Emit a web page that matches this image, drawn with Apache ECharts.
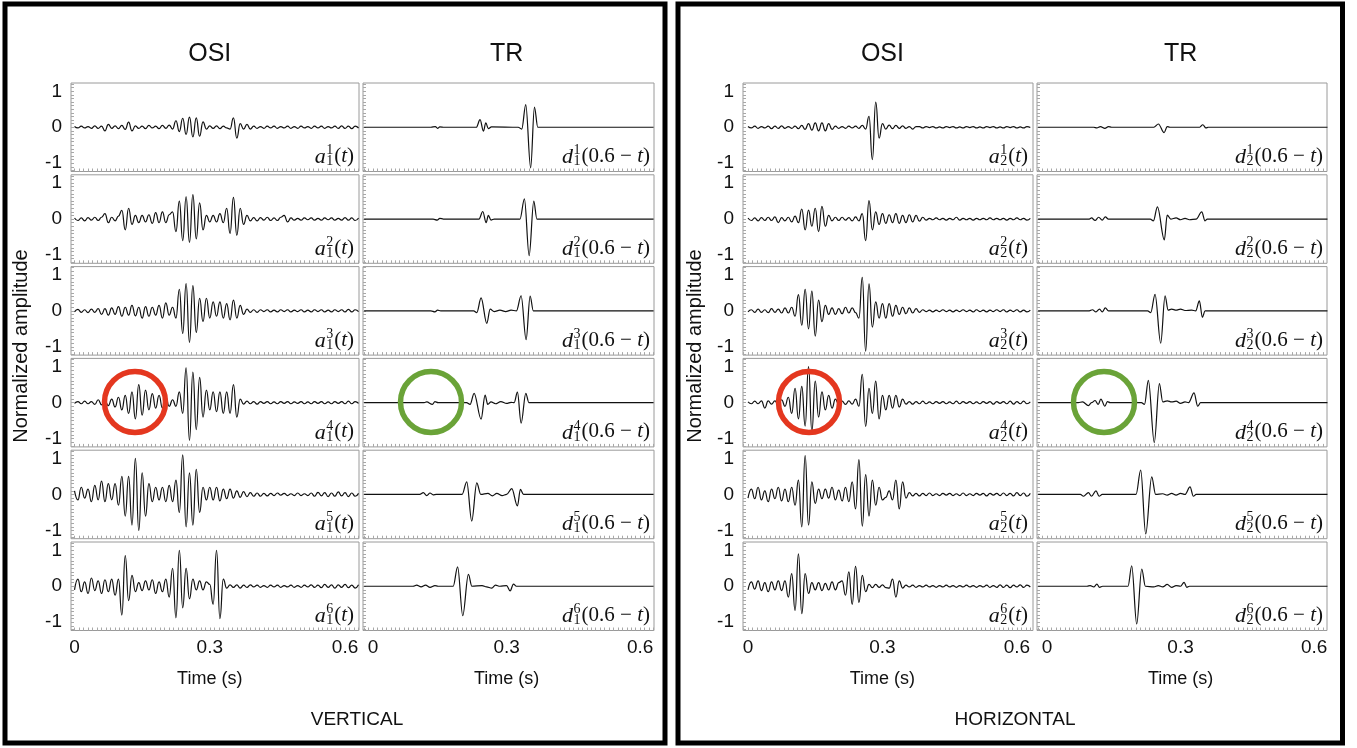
<!DOCTYPE html>
<html>
<head>
<meta charset="utf-8">
<script src="https://cdn.jsdelivr.net/npm/echarts@6/dist/echarts.min.js"></script>
<style>
html, body { margin: 0; padding: 0; background: #fff; }
#box { width: 1357px; height: 748px; }
</style>
</head>
<body>
<div id="box"></div>
<script>
// OSI traces are sampled every DT seconds starting at t = 0
const DT = 0.0075;

// OSI, vertical component (a_1^k)
const a11 = [0.02,-0.02,0.03,-0.02,0.02,-0.03,0.04,-0.03,0.03,
  -0.1,0.08,-0.03,0.04,-0.04,0.05,-0.06,0.14,-0.1,0.04,
  -0.03,0.03,-0.04,0.05,-0.02,0.03,-0.04,0.05,-0.03,0.06,
  -0.05,0.18,-0.12,0.25,-0.2,0.28,-0.27,0.26,-0.25,0.15,-0.05,
  0.04,-0.03,0.04,-0.04,0.03,-0.02,
  -0.05,0.26,-0.3,0.1,-0.05,0.08,-0.05,
  0.03,-0.03,0.02,-0.03,0.03,-0.02,0.03,-0.03,0.02,-0.02,0.03,-0.03,0.02,-0.03,0.03,-0.02,
  0.02,-0.03,0.03,-0.02,0.03,-0.03,0.02,-0.02,0.03,-0.03,0.04,-0.03,0.03,-0.04,0.03,-0.02];
const a12 = [0.03,-0.04,0.03,-0.05,0.04,-0.03,0.05,-0.04,0.05,
  0.15,-0.1,0.05,-0.05,0.08,
  0.24,-0.3,0.3,-0.15,0.1,-0.1,
  0.1,-0.08,0.12,-0.12,0.18,-0.1,0.2,-0.1,0.12,
  0.2,-0.35,0.5,-0.6,0.62,-0.65,0.68,-0.55,0.45,-0.3,0.1,
  -0.08,0.1,-0.08,0.15,-0.1,0.3,-0.4,0.6,-0.45,0.3,-0.15,0.1,-0.05,
  0.04,-0.05,0.04,-0.03,0.05,-0.04,0.03,-0.04,0.05,0.1,-0.08,0.03,-0.03,0.02,-0.03,0.03,
  -0.02,0.03,-0.03,0.02,-0.03,0.03,-0.02,0.03,-0.03,0.02,-0.03,0.04,-0.03,0.03,-0.04,0.03];
const a13 = [-0.03,0.04,-0.04,0.03,-0.05,0.05,-0.04,0.06,
  -0.1,0.06,-0.12,0.08,-0.1,0.12,-0.15,0.1,-0.12,0.15,-0.14,0.1,-0.2,0.12,-0.15,0.1,-0.12,0.15,-0.2,0.22,-0.12,0.1,
  -0.2,0.6,-0.63,0.76,-0.88,0.7,-0.6,0.35,-0.3,0.35,-0.2,0.25,
  -0.15,0.25,-0.2,0.2,-0.25,0.3,-0.2,0.15,-0.1,
  0.05,-0.04,0.03,-0.04,0.03,-0.02,0.03,-0.03,0.02,-0.03,0.03,-0.02,0.03,-0.03,0.02,-0.02,0.03,
  -0.03,0.02,-0.03,0.03,-0.02,0.03,-0.03,0.02,-0.03,0.03,-0.02,0.03,-0.03,0.04,-0.03,0.03,-0.02];
const a14 = [-0.02,0.03,-0.03,0.04,-0.03,0.03,-0.05,0.08,-0.06,0.05,
  -0.08,0.1,-0.12,0.15,-0.2,0.2,-0.3,0.3,-0.45,0.5,-0.35,0.35,-0.2,0.25,-0.15,0.2,-0.15,0.15,
  -0.1,0.08,-0.1,
  0.3,-0.3,0.97,-1.05,0.85,-0.75,0.7,-0.4,0.35,
  -0.2,0.3,-0.25,0.3,-0.3,0.3,-0.3,0.5,-0.4,0.1,
  -0.04,0.04,-0.03,0.03,-0.04,0.03,-0.02,0.03,-0.03,0.02,-0.03,0.03,-0.02,0.03,-0.03,0.02,-0.02,0.03,
  -0.03,0.02,-0.03,0.03,-0.02,0.03,-0.03,0.02,-0.03,0.03,-0.02,0.03,-0.03,0.04,-0.03,0.03,-0.02];
const a15 = [0.1,-0.15,0.2,-0.1,0.15,-0.2,0.25,-0.15,0.37,-0.2,0.3,-0.15,
  0.3,-0.3,0.5,-0.6,0.5,-0.85,1.0,-1.0,0.6,-0.6,0.3,
  -0.2,0.2,-0.15,0.2,-0.2,0.25,
  -0.2,0.4,-0.5,1.1,-0.9,0.6,-0.85,0.7,-0.5,0.2,
  -0.15,0.2,-0.15,0.2,-0.18,0.15,-0.12,0.15,-0.1,0.1,-0.08,0.08,-0.06,0.05,
  -0.05,0.04,-0.05,0.03,-0.04,0.03,-0.03,0.04,-0.02,0.03,-0.03,0.02,-0.03,0.04,-0.03,0.02,
  -0.03,0.04,-0.05,0.06,-0.04,0.05,-0.06,0.04,-0.05,0.07,-0.04,0.05,-0.06,0.04,-0.05,0.03];
const a16 = [-0.1,0.2,-0.15,0.12,-0.2,0.23,-0.12,0.15,-0.2,0.18,-0.15,0.2,-0.25,
  0.2,-0.8,0.85,-0.4,0.3,-0.15,
  0.1,-0.12,0.15,-0.1,0.18,-0.2,0.12,-0.15,0.2,-0.3,
  0.5,-0.88,1.0,-0.6,0.5,-0.35,0.2,
  -0.1,0.15,-0.1,0.12,0.05,
  -0.5,1.0,-0.9,0.2,-0.05,
  0.04,-0.03,0.04,-0.05,0.03,-0.03,0.04,-0.02,0.03,-0.03,0.02,-0.03,0.03,-0.02,0.03,-0.03,
  0.02,-0.02,0.03,-0.03,0.02,-0.03,0.03,-0.02,0.04,-0.03,0.03,-0.04,0.05,-0.03,0.04,-0.05,
  0.04,-0.03,0.05,-0.04,0.03,-0.05,0.04];

// OSI, horizontal component (a_2^k)
const a21 = [0.02,-0.02,0.03,-0.03,0.02,-0.02,0.03,-0.04,0.03,-0.03,0.04,-0.03,0.02,-0.03,0.03,-0.04,0.05,-0.06,
  0.1,-0.08,0.12,-0.1,0.12,-0.1,0.1,-0.06,
  0.03,-0.03,0.02,-0.03,0.03,-0.02,0.03,-0.03,0.05,-0.05,
  0.3,-0.9,0.7,-0.3,0.1,-0.05,
  0.06,-0.04,0.05,-0.03,0.04,-0.03,0.02,-0.05,0.02,
  0.02,-0.02,0.02,-0.01,0.02,-0.02,0.01,-0.02,0.02,-0.01,0.02,-0.02,0.01,-0.02,0.02,-0.01,
  0.02,-0.02,0.01,-0.02,0.02,-0.01,0.02,-0.02,0.01,-0.02,0.02,-0.01,0.02,-0.02,0.01,-0.02,0.02,-0.01];
const a22 = [0.03,-0.04,0.03,-0.05,0.04,-0.04,0.05,-0.04,0.06,-0.1,0.04,-0.05,0.05,-0.08,0.08,
  -0.1,0.28,-0.3,0.25,-0.2,0.3,-0.35,0.35,-0.2,0.1,
  -0.05,0.05,-0.04,0.05,-0.03,0.04,-0.05,0.06,-0.05,
  0.15,-0.6,0.51,-0.3,0.2,-0.15,0.15,-0.12,0.12,-0.1,0.15,-0.12,0.1,-0.1,0.12,-0.08,0.1,-0.06,0.05,
  -0.03,0.02,-0.02,0.03,-0.02,0.02,-0.03,0.02,-0.02,0.05,-0.03,0.02,-0.02,0.02,-0.03,0.02,
  -0.02,0.02,-0.02,0.03,-0.02,0.02,-0.02,0.02,-0.03,0.02,-0.02,0.03,-0.02,0.02,-0.03,0.02];
const a23 = [-0.03,0.03,-0.04,0.05,-0.04,0.03,-0.05,0.06,-0.04,0.05,-0.06,0.08,-0.06,0.1,
  -0.15,0.45,-0.4,0.6,-0.5,0.55,-0.7,0.3,-0.3,0.15,
  -0.1,0.08,-0.1,0.06,-0.08,0.1,-0.06,0.08,-0.05,
  -0.2,0.93,-1.12,0.75,-0.45,0.25,-0.2,0.2,-0.2,0.2,-0.15,0.15,-0.1,
  0.1,-0.08,0.08,-0.06,0.06,-0.04,0.03,
  -0.02,0.02,-0.03,0.02,-0.02,0.03,-0.02,0.02,-0.03,0.02,-0.02,0.03,-0.02,0.02,-0.03,0.03,
  -0.02,0.02,-0.03,0.02,-0.02,0.03,-0.02,0.03,-0.03,0.02,-0.02,0.03,-0.03,0.02,-0.03,0.02];
const a24 = [0.02,-0.03,0.04,-0.03,0.05,-0.15,0.05,-0.04,0.05,-0.06,0.08,-0.1,
  0.15,-0.3,0.4,-0.45,0.45,-0.65,1.0,-0.8,0.6,-0.4,0.3,-0.2,0.2,-0.15,0.1,
  -0.05,0.04,-0.05,0.05,-0.04,0.1,-0.1,
  0.79,-0.66,0.4,-0.3,0.6,-0.45,0.2,-0.2,0.2,-0.15,0.2,-0.12,0.1,
  -0.04,0.03,-0.04,0.03,-0.03,0.04,-0.03,0.02,-0.03,0.03,-0.02,0.03,-0.03,0.02,-0.03,0.04,
  -0.03,0.03,-0.02,0.03,-0.03,0.02,-0.03,0.03,-0.02,0.03,-0.04,0.03,-0.02,0.03,-0.03,0.04,
  -0.04,0.03,-0.03,0.04,-0.03,0.02];
const a25 = [-0.1,0.15,-0.12,0.2,-0.15,0.1,-0.2,0.15,-0.12,0.2,-0.18,0.15,-0.2,
  0.2,-0.3,0.4,-0.9,1.08,-0.85,0.35,-0.25,0.15,
  -0.12,0.15,-0.1,0.2,-0.15,0.12,-0.18,0.2,-0.2,
  0.35,-0.4,0.97,-0.88,0.55,-0.6,0.4,-0.3,0.2,-0.15,
  -0.08,0.1,-0.15,0.4,-0.4,0.35,-0.1,
  0.05,-0.04,0.03,-0.04,0.03,-0.03,0.04,-0.03,0.02,-0.03,0.03,-0.02,0.03,-0.03,0.02,-0.03,
  0.04,-0.03,0.02,-0.03,0.03,-0.02,0.03,-0.04,0.03,-0.02,0.03,-0.03,0.04,-0.03,0.03,-0.04,
  0.05,-0.03,0.04,-0.05,0.03];
const a26 = [-0.1,0.12,-0.08,0.15,-0.12,0.1,-0.15,0.12,-0.1,0.15,-0.12,
  0.15,-0.3,0.35,-0.67,0.9,-0.76,0.35,-0.2,0.1,
  -0.1,0.1,-0.12,0.08,-0.1,0.12,-0.1,0.1,0.15,-0.25,
  0.4,-0.5,0.55,-0.45,0.3,-0.15,0.05,
  -0.04,0.05,-0.03,0.04,-0.04,-0.05,0.2,-0.3,0.15,-0.05,
  0.03,-0.02,0.03,-0.03,0.02,-0.02,0.03,-0.02,0.02,-0.03,0.02,-0.02,0.03,-0.02,0.02,-0.03,
  0.02,-0.02,0.03,-0.02,0.02,-0.03,0.02,-0.02,0.03,-0.03,0.02,-0.03,0.04,-0.03,0.03,-0.04,
  0.03,-0.02,0.04,-0.03,0.03,-0.02];

// TR traces, [time, amplitude]
const d11 = [[-0.02,0],[0.13,0],[0.14,0.02],[0.145,-0.03],[0.15,0.01],[0.16,0],[0.232,0],[0.2404,0.21],[0.2479,-0.11],
  [0.2533,0.12],[0.2591,-0.04],[0.266,0.01],[0.326,0],[0.334,-0.05],[0.343,0.63],[0.354,-1.13],[0.3625,0.56],[0.37,0],[0.63,0]];
const d12 = [[-0.02,0],[0.135,0],[0.144,-0.03],[0.15,0.02],[0.158,0],[0.238,0],[0.2465,0.21],[0.254,-0.1],[0.259,0.1],
  [0.265,-0.03],[0.272,0],[0.33,0],[0.34,0.56],[0.3506,-1.02],[0.361,0.5],[0.368,0],[0.63,0]];
const d13 = [[-0.02,0],[0.13,0],[0.139,-0.03],[0.145,0.02],[0.152,0],[0.226,0],[0.233,-0.05],[0.2427,0.36],[0.2555,-0.35],
  [0.263,0.05],[0.272,-0.02],[0.285,0.02],[0.298,-0.02],[0.31,0.02],[0.322,0],[0.3326,0.42],[0.3438,-0.8],[0.3528,0.41],[0.36,0],[0.63,0]];
const d14 = [[-0.02,0],[0.115,0],[0.1206,0.02],[0.1334,-0.05],[0.139,0.03],[0.146,0],[0.21,0],[0.218,-0.05],[0.227,0.26],
  [0.2427,-0.46],[0.2517,0.21],[0.2577,-0.05],[0.265,0.02],[0.275,-0.03],[0.287,0.03],[0.3,-0.02],[0.31,0.01],[0.317,0],
  [0.3243,0.29],[0.3326,-0.57],[0.3431,0.26],[0.35,0],[0.63,0]];
const d15 = [[-0.02,0],[0.105,0],[0.113,0.05],[0.1206,-0.03],[0.128,0.04],[0.135,-0.01],[0.142,0],[0.2,0],[0.2105,0.35],
  [0.2217,-0.74],[0.233,0.32],[0.242,0],[0.258,0.03],[0.268,-0.04],[0.278,0.03],[0.29,-0.03],[0.3,0],[0.3116,0.16],
  [0.3243,-0.32],[0.331,0.14],[0.338,0],[0.63,0]];
const d16 = [[-0.02,0],[0.09,0],[0.098,0.03],[0.108,-0.02],[0.118,0.03],[0.128,-0.03],[0.139,0.02],[0.146,0],[0.18,0],
  [0.19,0.54],[0.2015,-0.82],[0.2142,0.33],[0.222,0],[0.245,0.02],[0.255,-0.02],[0.2667,-0.05],[0.275,0.03],[0.285,0],
  [0.3,0.02],[0.3079,-0.13],[0.3153,0.06],[0.322,0],[0.63,0]];
const d21 = [[-0.02,0],[0.105,0],[0.112,-0.02],[0.12,0.02],[0.13,-0.03],[0.138,0.02],[0.145,0],[0.24,0],[0.2502,0.09],
  [0.263,-0.15],[0.27,0.02],[0.276,0],[0.343,0],[0.35,0.07],[0.357,-0.02],[0.362,0],[0.63,0]];
const d22 = [[-0.02,0],[0.095,0],[0.1,0.03],[0.108,-0.04],[0.116,0.05],[0.124,-0.03],[0.131,0.06],[0.138,0],[0.232,0],
  [0.239,-0.05],[0.248,0.34],[0.2636,-0.58],[0.27,0.11],[0.278,0],[0.29,0.03],[0.3,-0.02],[0.31,0.02],[0.32,-0.02],
  [0.335,0],[0.3476,0.2],[0.355,-0.05],[0.36,0],[0.63,0]];
const d23 = [[-0.02,0],[0.095,0],[0.102,0.03],[0.11,-0.03],[0.118,0.05],[0.124,-0.03],[0.131,0.08],[0.138,0],[0.226,0],
  [0.233,-0.05],[0.2427,0.46],[0.2554,-0.9],[0.2652,0.42],[0.272,0.02],[0.28,0.05],[0.29,0.02],[0.3,0.05],[0.31,0.01],
  [0.325,0.02],[0.334,0],[0.3423,0.28],[0.349,-0.18],[0.355,0],[0.63,0]];
const d24 = [[-0.02,0],[0.07,0],[0.08,0.02],[0.093,-0.08],[0.1,0],[0.108,0.06],[0.115,-0.05],[0.121,0.1],[0.13,-0.1],
  [0.1356,0.03],[0.142,0],[0.212,0],[0.219,-0.05],[0.2277,0.62],[0.241,-1.11],[0.2524,0.53],[0.26,0.02],[0.27,0.05],
  [0.28,0.02],[0.29,0.04],[0.3,-0.02],[0.31,0.02],[0.318,0],[0.3303,0.27],[0.3386,-0.1],[0.345,0],[0.63,0]];
const d25 = [[-0.02,0],[0.075,0],[0.082,-0.05],[0.093,0.05],[0.1,-0.05],[0.11,0.1],[0.117,-0.05],[0.124,0],[0.2,0],
  [0.2105,0.68],[0.2217,-1.1],[0.2352,0.49],[0.244,0],[0.26,0.02],[0.27,-0.02],[0.28,0.03],[0.29,-0.02],[0.3,0.03],
  [0.31,0],[0.3213,0.21],[0.3288,-0.05],[0.335,0],[0.63,0]];
const d26 = [[-0.02,0],[0.09,0],[0.097,0.02],[0.105,-0.02],[0.112,0.06],[0.118,-0.03],[0.125,0],[0.182,0],[0.1903,0.57],
  [0.2015,-1.05],[0.2128,0.48],[0.221,0],[0.24,-0.02],[0.25,0.02],[0.26,-0.02],[0.27,0.05],[0.28,-0.03],[0.29,0.02],
  [0.3,0],[0.3079,0.11],[0.314,-0.03],[0.32,0],[0.63,0]];

const xLabels = [0, 0.3, 0.6];
const yLabels = [-1, 0, 1];
const colTitles = ['OSI', 'TR', 'OSI', 'TR'];
const halfTitles = ['VERTICAL', 'HORIZONTAL'];

// panel columns (pixel layout + time range)
const cols = [
  {left: 71, width: 288, min: -0.0078, max: 0.631, kind: 'osi', half: 0, traces: [a11, a12, a13, a14, a15, a16]},
  {left: 363, width: 291, min: -0.0225, max: 0.631, kind: 'tr', half: 0, traces: [d11, d12, d13, d14, d15, d16]},
  {left: 743, width: 290, min: -0.0112, max: 0.636, kind: 'osi', half: 1, traces: [a21, a22, a23, a24, a25, a26]},
  {left: 1037, width: 290, min: -0.0225, max: 0.629, kind: 'tr', half: 1, traces: [d21, d22, d23, d24, d25, d26]}
];
const rowTop0 = 83, rowPitch = 91.8, rowH = 88.5;
const YMIN = -1.23, YMAX = 1.23;

const SANS = '"Liberation Sans", Arial, sans-serif';
const SERIF = '"Liberation Serif", "DejaVu Serif", serif';
const INK = '#111';

function steps(lo, hi, st) {
  let out = [];
  for (let k = Math.ceil(lo / st - 1e-9); k * st <= hi + 1e-9; k++) out.push(+(k * st).toFixed(4));
  return out;
}

const ctx = document.createElement('canvas').getContext('2d');
function textWidth(str, font) { ctx.font = font; return ctx.measureText(str).width; }

// a_j^k(t) / d_j^k(0.6 - t) labels, built from separate text pieces
function mathLabel(right, cy, letter, sup, sub, head) {
  const fs = 21, ss = 14;
  const nFont = fs + 'px ' + SERIF, iFont = 'italic ' + fs + 'px ' + SERIF;
  const wA = textWidth(head, nFont) + textWidth('t', iFont) + textWidth(')', nFont);
  const wS = Math.max(textWidth(sup, ss + 'px ' + SERIF), textWidth(sub, ss + 'px ' + SERIF));
  const xs = right - wA - 1;
  return [
    {type: 'text', z: 50, style: {
      text: '{n|' + head + '}{i|t}{n|)}', x: right, y: cy, align: 'right', textAlign: 'right',
      verticalAlign: 'middle', textVerticalAlign: 'middle', fill: INK,
      rich: {n: {fontFamily: SERIF, fontSize: fs, color: INK}, i: {fontFamily: SERIF, fontSize: fs, fontStyle: 'italic', color: INK}}
    }},
    {type: 'text', z: 50, style: {text: sup, x: xs, y: cy - 6, font: ss + 'px ' + SERIF, fill: INK,
      align: 'right', textAlign: 'right', verticalAlign: 'middle', textVerticalAlign: 'middle'}},
    {type: 'text', z: 50, style: {text: sub, x: xs, y: cy + 5, font: ss + 'px ' + SERIF, fill: INK,
      align: 'right', textAlign: 'right', verticalAlign: 'middle', textVerticalAlign: 'middle'}},
    {type: 'text', z: 50, style: {text: letter, x: xs - wS - 0.5, y: cy + 1, font: 'italic ' + (fs + 1) + 'px ' + SERIF, fill: INK,
      align: 'right', textAlign: 'right', verticalAlign: 'middle', textVerticalAlign: 'middle'}}
  ];
}

let grids = [], xAxes = [], yAxes = [], series = [], graphics = [];
const yTicks = steps(-1.2, 1.2, 0.1);

cols.forEach(function (c, ci) {
  const xTicks = steps(c.min, c.max, 0.01);
  const x03 = c.left + (0.3 - c.min) / (c.max - c.min) * c.width;
  c.traces.forEach(function (trace, r) {
    const gi = grids.length;
    const top = rowTop0 + r * rowPitch;
    const last = r === 5;
    grids.push({left: c.left, top: top, width: c.width, height: rowH, show: true,
      borderColor: '#9a9a9a', borderWidth: 1, backgroundColor: 'transparent', containLabel: false, outerBoundsMode: 'none'});
    xAxes.push({
      gridIndex: gi, type: 'value', min: c.min, max: c.max, position: 'bottom',
      axisLine: {show: false, onZero: false}, splitLine: {show: false},
      axisTick: {show: true, inside: true, length: 3, customValues: xTicks, lineStyle: {color: '#a8a8a8', width: 1}},
      axisLabel: {show: last, customValues: xLabels, fontSize: 19, fontFamily: SANS, color: INK, margin: 8}
    });
    yAxes.push({
      gridIndex: gi, type: 'value', min: YMIN, max: YMAX, position: 'left',
      axisLine: {show: false, onZero: false}, splitLine: {show: false},
      axisTick: {show: true, inside: true, length: 3, customValues: yTicks, lineStyle: {color: '#a8a8a8', width: 1}},
      axisLabel: {show: c.kind === 'osi', customValues: yLabels, fontSize: 19, fontFamily: SANS, color: INK, margin: 9}
    });
    const data = c.kind === 'osi'
      ? trace.map(function (v, i) { return [+(i * DT).toFixed(4), v]; })
      : trace;
    series.push({
      type: 'line', xAxisIndex: gi, yAxisIndex: gi, data: data,
      showSymbol: false, silent: true, animation: false,
      smooth: c.kind === 'osi' ? 0.5 : 0.35, smoothMonotone: 'x',
      lineStyle: {color: INK, width: 1.2}
    });
    const sup = String(r + 1), sub = String(c.half + 1);
    const label = c.kind === 'osi'
      ? mathLabel(c.left + c.width - 5, top + rowH - 15, 'a', sup, sub, '(')
      : mathLabel(c.left + c.width - 4, top + rowH - 15, 'd', sup, sub, '(0.6 \u2212 ');
    graphics = graphics.concat(label);
  });
  graphics.push({type: 'text', style: {text: colTitles[ci], x: x03, y: 54, font: '25px ' + SANS, fill: INK,
    align: 'center', textAlign: 'center', verticalAlign: 'middle', textVerticalAlign: 'middle'}});
  graphics.push({type: 'text', style: {text: 'Time (s)', x: x03, y: 679, font: '18px ' + SANS, fill: INK,
    align: 'center', textAlign: 'center', verticalAlign: 'middle', textVerticalAlign: 'middle'}});
});

// panel frames, captions, y titles
const halves = [{x: 5, w: 660, cx: 357, yTitle: 21}, {x: 678, w: 664.5, cx: 1015, yTitle: 695}];
halves.forEach(function (h, k) {
  graphics.push({type: 'rect', shape: {x: h.x, y: 4, width: h.w, height: 739},
    style: {fill: 'none', stroke: '#000', lineWidth: 5}, z: 60});
  graphics.push({type: 'text', style: {text: halfTitles[k], x: h.cx, y: 720, font: '19px ' + SANS, fill: INK,
    align: 'center', textAlign: 'center', verticalAlign: 'middle', textVerticalAlign: 'middle'}});
  graphics.push({type: 'text', x: h.yTitle, y: 346, rotation: Math.PI / 2,
    style: {text: 'Normalized amplitude', x: 0, y: 0, font: '20px ' + SANS, fill: INK,
      align: 'center', textAlign: 'center', verticalAlign: 'middle', textVerticalAlign: 'middle'}});
});

// highlight circles
const rings = [[135, 402, '#e4371f'], [431, 402, '#6aa338'], [809, 402, '#e4371f'], [1104, 402, '#6aa338']];
rings.forEach(function (g) {
  graphics.push({type: 'circle', shape: {cx: g[0], cy: g[1], r: 30.5},
    style: {fill: 'none', stroke: g[2], lineWidth: 5.5}, z: 70});
});

const chart = echarts.init(document.getElementById('box'));
chart.setOption({
  backgroundColor: '#fff',
  animation: false,
  textStyle: {fontFamily: SANS},
  grid: grids,
  xAxis: xAxes,
  yAxis: yAxes,
  series: series,
  graphic: {elements: graphics}
});
</script>
</body>
</html>
